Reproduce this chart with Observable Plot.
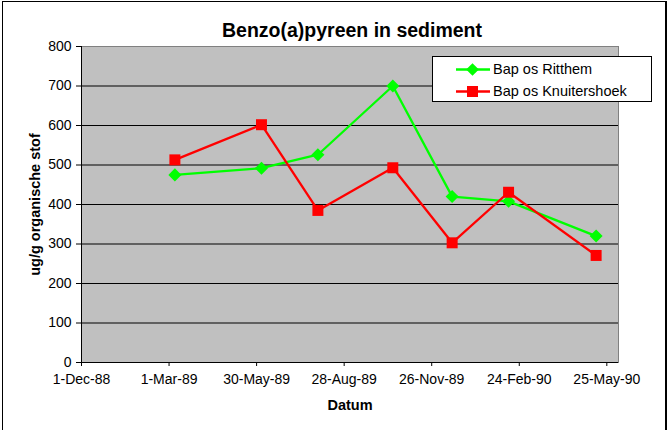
<!DOCTYPE html>
<html>
<head>
<meta charset="utf-8">
<script src="https://cdn.jsdelivr.net/npm/d3@7"></script>
<script src="https://cdn.jsdelivr.net/npm/@observablehq/plot@0.6"></script>
<style>
  html, body { margin: 0; padding: 0; background: #fff; }
  #wrap { position: relative; width: 669px; height: 430px; overflow: hidden; font-family: "Liberation Sans", Arial, sans-serif; }
  #border { position: absolute; left: 2px; top: 1px; width: 665px; height: 432px; border: 1px solid #000; border-right-width: 2px; box-sizing: border-box; pointer-events: none; }
  #legend { position: absolute; left: 432px; top: 56px; width: 220px; height: 46px; background: #fff; border: 1px solid #000; box-sizing: border-box; font-size: 14.5px; }
  .row { position: absolute; left: 0; height: 20px; display: flex; align-items: center; }
  .row svg { margin-left: 23px; margin-right: 3px; }
</style>
</head>
<body>
<div id="wrap">
  <div id="chart"></div>
  <div id="legend"></div>
  <div id="border"></div>
</div>
<script>
const title = "Benzo(a)pyreen in sediment";
const xLabel = "Datum";
const yLabel = "ug/g organische stof";

const tickDates = ["1988-12-01","1989-03-01","1989-05-30","1989-08-28","1989-11-26","1990-02-24","1990-05-25"];
const tickLabels = ["1-Dec-88","1-Mar-89","30-May-89","28-Aug-89","26-Nov-89","24-Feb-90","25-May-90"];
const yTicks = [0,100,200,300,400,500,600,700,800];

const seriesNames = ["Bap os Ritthem", "Bap os Knuitershoek"];
const seriesColors = ["#00FF00", "#FF0000"];

const datesRitthem = ["1989-03-07","1989-06-04","1989-08-01","1989-10-17","1989-12-17","1990-02-13","1990-05-14"];
const valuesRitthem = [475, 492, 526, 700, 420, 408, 320];
const datesKnuitershoek = ["1989-03-07","1989-06-04","1989-08-01","1989-10-17","1989-12-17","1990-02-13","1990-05-14"];
const valuesKnuitershoek = [513, 602, 385, 493, 303, 431, 271];

const parse = s => new Date(s + "T00:00:00Z");
const ritthem = datesRitthem.map((d, i) => ({date: parse(d), value: valuesRitthem[i]}));
const knuit = datesKnuitershoek.map((d, i) => ({date: parse(d), value: valuesKnuitershoek[i]}));
const tickDateObjs = tickDates.map(parse);
const labelOf = d => tickLabels[tickDateObjs.findIndex(t => +t === +d)];
const xDomain = [parse("1988-12-01"), parse("1990-06-06")];

const chart = Plot.plot({
  width: 669,
  height: 430,
  marginLeft: 81,
  marginRight: 51,
  marginTop: 46,
  marginBottom: 68,
  style: {fontFamily: "'Liberation Sans', Arial, sans-serif", fontSize: "13.5px", background: "transparent", color: "#000", overflow: "visible"},
  x: {type: "utc", domain: xDomain},
  y: {domain: [0, 800]},
  marks: [
    Plot.frame({fill: "#C0C0C0", stroke: "#808080"}),
    Plot.gridY(yTicks.filter(d => d > 0 && d < 800), {stroke: "#000", strokeOpacity: 1}),
    Plot.ruleY([0], {stroke: "#000"}),
    Plot.ruleX([xDomain[0]], {stroke: "#000"}),
    Plot.axisY({ticks: yTicks, tickSize: 5, tickPadding: 5, label: null, fontSize: 14}),
    Plot.axisX({ticks: tickDateObjs, tickFormat: labelOf, tickSize: 4, tickPadding: 8, label: null, fontSize: 14}),
    Plot.line(ritthem, {x: "date", y: "value", stroke: seriesColors[0], strokeWidth: 2.3}),
    Plot.line(knuit, {x: "date", y: "value", stroke: seriesColors[1], strokeWidth: 2.3}),
    Plot.dot(ritthem, {x: "date", y: "value", symbol: "square", rotate: 45, r: 5.2, fill: seriesColors[0], stroke: "none"}),
    Plot.dot(knuit, {x: "date", y: "value", symbol: "square", r: 6.2, fill: seriesColors[1], stroke: "none"}),
    Plot.text([title], {text: d => d, frameAnchor: "top", dx: 2, dy: -23, fontWeight: "bold", fontSize: 19.5}),
    Plot.text([xLabel], {text: d => d, frameAnchor: "bottom", dy: 47, fontWeight: "bold", fontSize: 14.5}),
    Plot.text([yLabel], {text: d => d, frameAnchor: "left", textAnchor: "middle", dx: -46, rotate: -90, fontWeight: "bold", fontSize: 14.5})
  ]
});
document.getElementById("chart").appendChild(chart);

// legend
const legend = document.getElementById("legend");
seriesNames.forEach((name, i) => {
  const row = document.createElement("div");
  row.className = "row";
  row.style.top = (i === 0 ? 2 : 24) + "px";
  const marker = i === 0
    ? `<rect x="12" y="4" width="9" height="9" fill="${seriesColors[i]}" transform="rotate(45 16.5 8.5)"/>`
    : `<rect x="11" y="3" width="11" height="11" fill="${seriesColors[i]}"/>`;
  row.innerHTML = `<svg width="34" height="17"><line x1="0" x2="34" y1="8.5" y2="8.5" stroke="${seriesColors[i]}" stroke-width="2.3"/>${marker}</svg><span>${name}</span>`;
  legend.appendChild(row);
});
</script>
</body>
</html>
